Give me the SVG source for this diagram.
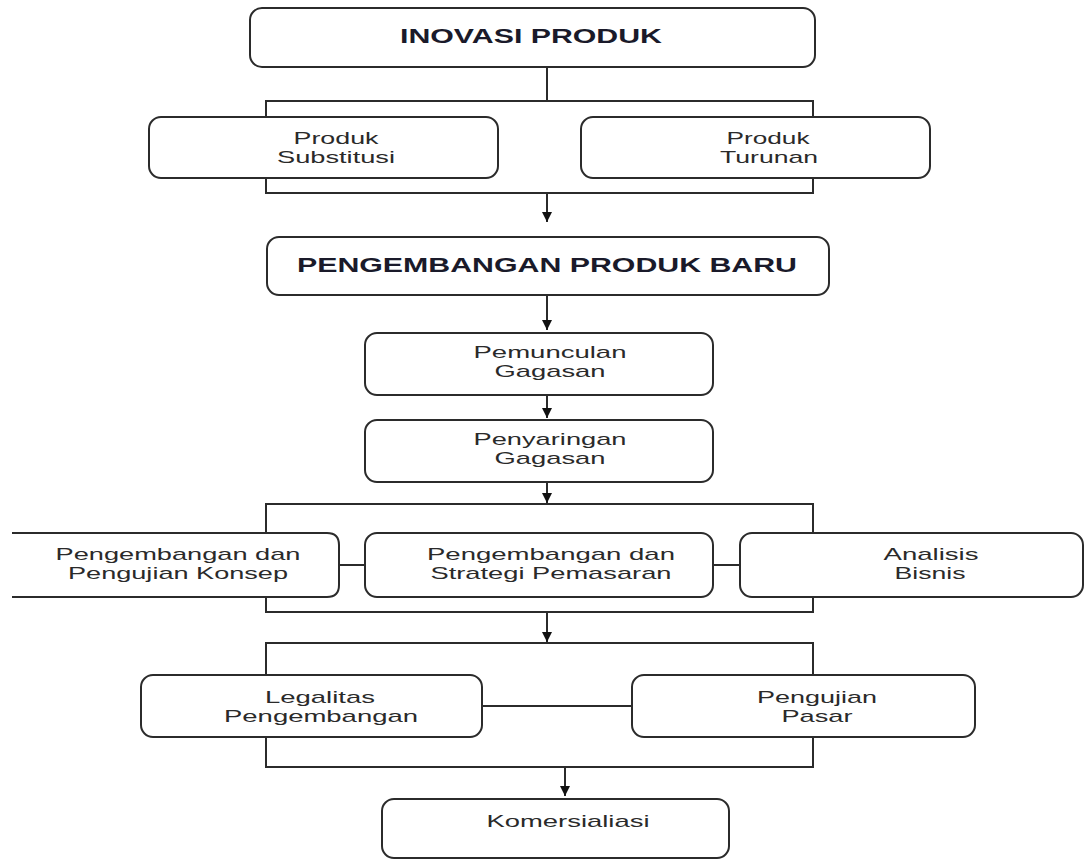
<svg xmlns="http://www.w3.org/2000/svg" width="1085" height="861" viewBox="0 0 1085 861">
<style>
.box{fill:#fff;stroke:#2b2b2b;stroke-width:2}
.ln{fill:none;stroke:#2b2b2b;stroke-width:2}
.t{font-family:"Liberation Sans",Arial,sans-serif;font-size:17px;fill:#2a2a2a;text-anchor:middle}
.b{font-family:"Liberation Sans",Arial,sans-serif;font-size:21px;font-weight:bold;fill:#1a1a2a;text-anchor:middle}
</style>
<defs>
<marker id="ah" viewBox="0 0 10 10" refX="10" refY="5" markerWidth="5" markerHeight="5" markerUnits="strokeWidth" orient="auto">
<path d="M0,0 L10,5 L0,10 z" fill="#111"/>
</marker>
</defs>
<rect width="1085" height="861" fill="#fff"/>
<g id="connectors">
<path class="ln" d="M547,67 V101 M266,117 V101 H813 V117"/>
<path class="ln" d="M266,178 V193 H813 V178"/>
<path class="ln" d="M547,193 V222" marker-end="url(#ah)"/>
<path class="ln" d="M547,295 V330" marker-end="url(#ah)"/>
<path class="ln" d="M547,395 V418" marker-end="url(#ah)"/>
<path class="ln" d="M547,482 V503" marker-end="url(#ah)"/>
<path class="ln" d="M266,533 V504 H813 V533"/>
<path class="ln" d="M339,565 H365 M713,565 H740"/>
<path class="ln" d="M266,597 V612 H813 V597"/>
<path class="ln" d="M547,612 V642" marker-end="url(#ah)"/>
<path class="ln" d="M266,675 V643 H813 V675"/>
<path class="ln" d="M482,706 H632"/>
<path class="ln" d="M266,737 V767 H813 V737"/>
<path class="ln" d="M565,767 V796" marker-end="url(#ah)"/>
</g>
<g id="inovasi">
<rect class="box" x="250" y="8" width="565" height="59" rx="12"/>
<text class="b" x="531" y="43" textLength="262" lengthAdjust="spacingAndGlyphs">INOVASI PRODUK</text>
</g>
<g id="substitusi">
<rect class="box" x="149" y="117" width="349" height="61" rx="12"/>
<text class="t" x="336" y="144" textLength="85" lengthAdjust="spacingAndGlyphs">Produk</text>
<text class="t" x="336" y="163" textLength="118" lengthAdjust="spacingAndGlyphs">Substitusi</text>
</g>
<g id="turunan">
<rect class="box" x="581" y="117" width="349" height="61" rx="12"/>
<text class="t" x="768" y="144" textLength="83" lengthAdjust="spacingAndGlyphs">Produk</text>
<text class="t" x="769" y="163" textLength="98" lengthAdjust="spacingAndGlyphs">Turunan</text>
</g>
<g id="pengembangan-produk-baru">
<rect class="box" x="267" y="237" width="562" height="58" rx="12"/>
<text class="b" x="547" y="272" textLength="500" lengthAdjust="spacingAndGlyphs">PENGEMBANGAN PRODUK BARU</text>
</g>
<g id="pemunculan">
<rect class="box" x="365" y="333" width="348" height="62" rx="12"/>
<text class="t" x="550" y="358" textLength="153" lengthAdjust="spacingAndGlyphs">Pemunculan</text>
<text class="t" x="550" y="377" textLength="111" lengthAdjust="spacingAndGlyphs">Gagasan</text>
</g>
<g id="penyaringan">
<rect class="box" x="365" y="420" width="348" height="62" rx="12"/>
<text class="t" x="550" y="445" textLength="153" lengthAdjust="spacingAndGlyphs">Penyaringan</text>
<text class="t" x="550" y="464" textLength="111" lengthAdjust="spacingAndGlyphs">Gagasan</text>
</g>
<g id="konsep">
<path class="box" d="M12,533 H327 Q339,533 339,545 V585 Q339,597 327,597 H12"/>
<text class="t" x="178" y="560" textLength="245" lengthAdjust="spacingAndGlyphs">Pengembangan dan</text>
<text class="t" x="178" y="579" textLength="220" lengthAdjust="spacingAndGlyphs">Pengujian Konsep</text>
</g>
<g id="strategi">
<rect class="box" x="365" y="533" width="348" height="64" rx="12"/>
<text class="t" x="551" y="560" textLength="248" lengthAdjust="spacingAndGlyphs">Pengembangan dan</text>
<text class="t" x="551" y="579" textLength="241" lengthAdjust="spacingAndGlyphs">Strategi Pemasaran</text>
</g>
<g id="analisis">
<rect class="box" x="740" y="533" width="343" height="64" rx="12"/>
<text class="t" x="931" y="560" textLength="95" lengthAdjust="spacingAndGlyphs">Analisis</text>
<text class="t" x="930" y="579" textLength="71" lengthAdjust="spacingAndGlyphs">Bisnis</text>
</g>
<g id="legalitas">
<rect class="box" x="141" y="675" width="341" height="62" rx="12"/>
<text class="t" x="320" y="703" textLength="110" lengthAdjust="spacingAndGlyphs">Legalitas</text>
<text class="t" x="321" y="722" textLength="194" lengthAdjust="spacingAndGlyphs">Pengembangan</text>
</g>
<g id="pengujian-pasar">
<rect class="box" x="632" y="675" width="343" height="62" rx="12"/>
<text class="t" x="817" y="703" textLength="120" lengthAdjust="spacingAndGlyphs">Pengujian</text>
<text class="t" x="817" y="722" textLength="71" lengthAdjust="spacingAndGlyphs">Pasar</text>
</g>
<g id="komersialiasi">
<rect class="box" x="382" y="799" width="347" height="59" rx="12"/>
<text class="t" x="568" y="827" textLength="163" lengthAdjust="spacingAndGlyphs">Komersialiasi</text>
</g>
</svg>
